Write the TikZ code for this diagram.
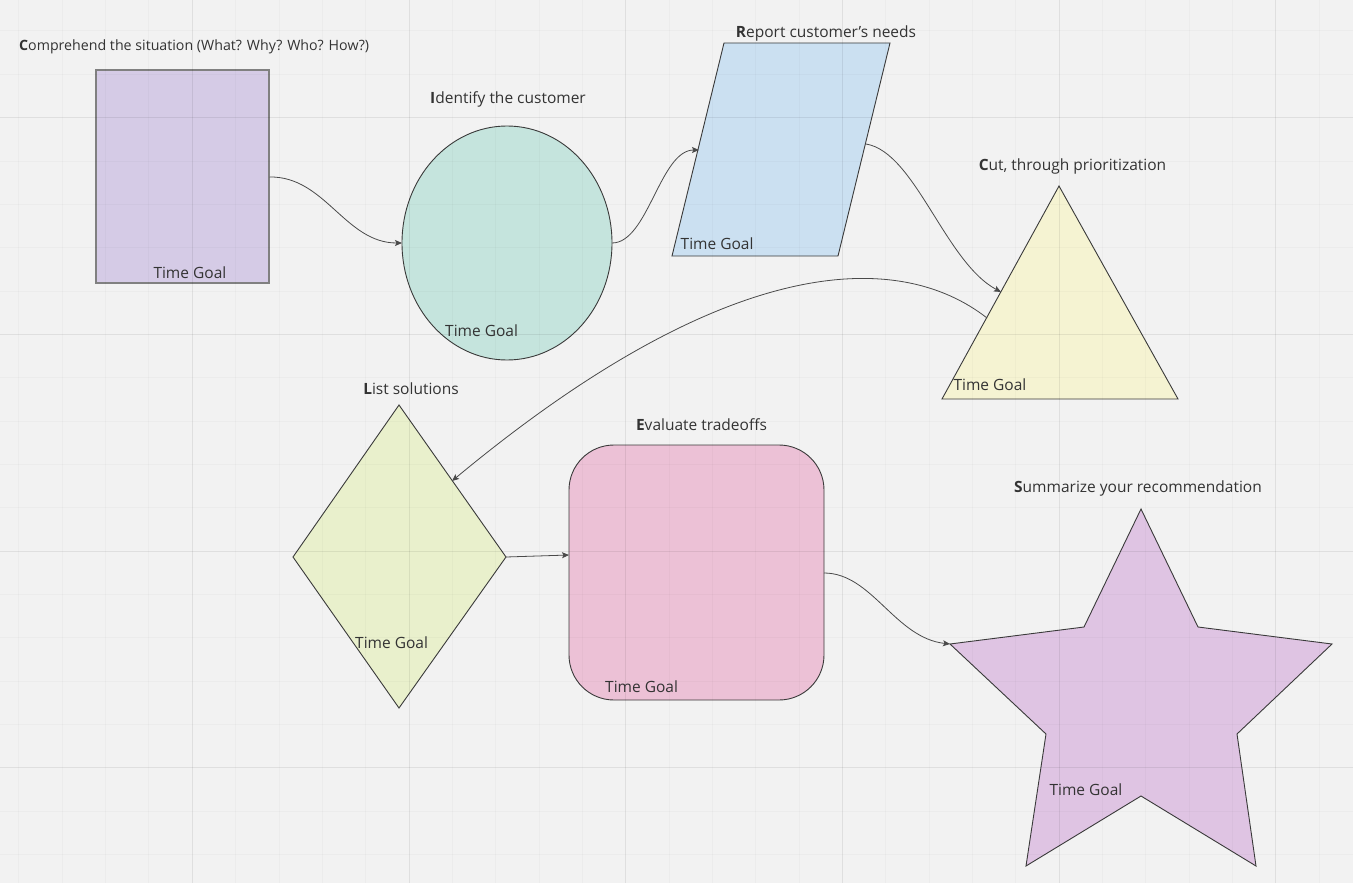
\documentclass[tikz,border=0pt]{standalone}
\usepackage{fontspec}
\setmainfont{Open Sans}
\usetikzlibrary{arrows.meta}
\definecolor{bg}{HTML}{F2F2F2}
\definecolor{txt}{HTML}{333333}
\definecolor{edge}{HTML}{3A3A3A}
\definecolor{wire}{HTML}{4A4A4A}
\definecolor{cRect}{HTML}{D5CBE6}
\definecolor{cEll}{HTML}{C5E4DD}
\definecolor{cPar}{HTML}{CBE0F1}
\definecolor{cTri}{HTML}{F5F3D2}
\definecolor{cDia}{HTML}{E9F0CC}
\definecolor{cRnd}{HTML}{ECC1D6}
\definecolor{cStar}{HTML}{DFC4E3}
\tikzset{
  shapebox/.style={draw=edge, line width=0.9pt, line join=miter},
  title/.style={text=txt, font=\fontsize{15.5}{18}\selectfont, anchor=base, inner sep=0pt},
  goal/.style={text=txt, font=\fontsize{15.5}{18}\selectfont, anchor=base west, inner sep=0pt},
  wirearrow/.style={draw=wire, line width=0.8pt, -{Stealth[length=7pt,width=6pt,inset=1.5pt]}},
  minorgrid/.style={draw=black, draw opacity=0.025, line width=1pt},
  majorgrid/.style={draw=black, draw opacity=0.05, line width=1pt},
}
\begin{document}
\begin{tikzpicture}[x=1pt, y=-1pt]
\useasboundingbox (0,0) rectangle (1353,883);
\fill[bg] (0,0) rectangle (1353,883);

% shapes
\draw[shapebox, fill=cRect, draw=black!50, line width=1.2pt] (96,70) rectangle (269,283);
\draw[shapebox, fill=cEll] (507,243) ellipse [x radius=105, y radius=117];
\draw[shapebox, fill=cPar] (724,43) -- (890,43) -- (838,256) -- (672,256) -- cycle;
\draw[shapebox, fill=cTri] (1059,186) -- (1178,399) -- (942,399) -- cycle;
\draw[shapebox, fill=cDia] (399,405) -- (506,557) -- (399,708) -- (293,557) -- cycle;
\draw[shapebox, fill=cRnd, rounded corners=45] (569,445) rectangle (824,700);
\draw[shapebox, fill=cStar] (1141,509) -- (1198,627) -- (1332,644) -- (1237,734) -- (1256,866)
  -- (1141,796) -- (1026,866) -- (1046,734) -- (950,644) -- (1084,627) -- cycle;

% grid
\foreach \k in {0,...,31} {
  \pgfmathsetmacro{\gx}{18.96+43.34*\k}
  \draw[minorgrid] (\gx,0) -- (\gx,883);
}
\foreach \k in {0,...,20} {
  \pgfmathsetmacro{\gy}{31+43.34*\k}
  \draw[minorgrid] (0,\gy) -- (1353,\gy);
}
\foreach \gx in {192.3,409,625.7,842.4,1059.1,1275.8} {
  \draw[majorgrid] (\gx,0) -- (\gx,883);
}
\foreach \gy in {117.6,334.3,551,767.7} {
  \draw[majorgrid] (0,\gy) -- (1353,\gy);
}

% connector end points
\coordinate (compE) at (269.5,177);
\coordinate (identW) at (402,243);
\coordinate (identE) at (612,243);
\coordinate (reportW) at (699,150);
\coordinate (reportE) at (866,144);
\coordinate (cutW) at (1001,292);
\coordinate (cutL) at (987,318);
\coordinate (listNE) at (452,481);
\coordinate (listE) at (506,557);
\coordinate (evalW) at (569,555);
\coordinate (evalE) at (824,573);
\coordinate (sumW) at (950,644);

% connectors
\draw[wirearrow] (compE) .. controls (325,176) and (345,243) .. (identW);
\draw[wirearrow] (identE) .. controls (648,243) and (660,150) .. (reportW);
\draw[wirearrow] (reportE) .. controls (915,152) and (945,262) .. (cutW);
\draw[wirearrow] (cutL) .. controls (900,250) and (730,250) .. (listNE);
\draw[wirearrow] (listE) -- (evalW);
\draw[wirearrow] (evalE) .. controls (872,573) and (895,638) .. (sumW);

% titles
\node[title, anchor=base west, font=\fontsize{14.2}{16}\selectfont] (tComp) at (19,50.5) {\textbf{C}omprehend the situation (What? Why? Who? How?)};
\node[title] (tIdent) at (508,103.5) {\textbf{I}dentify the customer};
\node[title] (tReport) at (826,38) {\textbf{R}eport customer’s needs};
\node[title] (tCut) at (1072.5,170) {\textbf{C}ut, through prioritization};
\node[title] (tList) at (411,394) {\textbf{L}ist solutions};
\node[title] (tEval) at (701.5,430) {\textbf{E}valuate tradeoffs};
\node[title] (tSum) at (1138,492.5) {\textbf{S}ummarize your recommendation};

% time goal labels
\node[goal] (gComp) at (153.3,278) {Time Goal};
\node[goal] (gIdent) at (445,336) {Time Goal};
\node[goal] (gReport) at (680.5,249) {Time Goal};
\node[goal] (gCut) at (953.3,390.5) {Time Goal};
\node[goal] (gList) at (355,648) {Time Goal};
\node[goal] (gEval) at (605,692) {Time Goal};
\node[goal] (gSum) at (1049.3,795) {Time Goal};
\end{tikzpicture}
\end{document}
